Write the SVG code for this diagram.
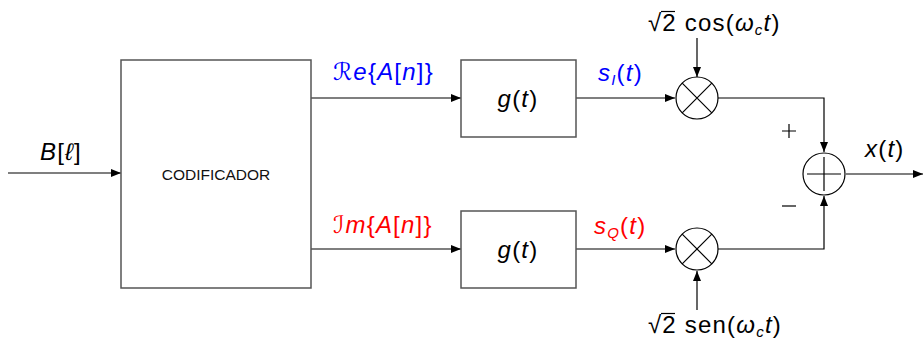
<svg xmlns="http://www.w3.org/2000/svg" width="923" height="339" viewBox="0 0 923 339">
<style>
.box{fill:#fff;stroke:#555;stroke-width:1.5}
.ln{fill:none;stroke:#000;stroke-width:1.2}
.circ{fill:#fff;stroke:#000;stroke-width:1.2}
.t{font-family:"Liberation Sans","DejaVu Sans",sans-serif;font-size:24px;fill:#000;letter-spacing:1.2px}
.i{font-style:italic}
.sub{font-size:15px;font-style:italic}
.blue{fill:#0000ff}
.red{fill:#ff0000}
.small{font-family:"Liberation Sans",sans-serif;font-size:15.5px;fill:#111}
</style>
<defs>
<marker id="ar" viewBox="0 0 10 8" refX="10" refY="4" markerWidth="10" markerHeight="8" markerUnits="userSpaceOnUse" orient="auto">
<path d="M0,0 L10,4 L0,8 Z" fill="#000"/>
</marker>
</defs>
<g id="connectors">
<line class="ln" x1="8" y1="173" x2="121" y2="173" marker-end="url(#ar)"/>
<line class="ln" x1="311" y1="98" x2="461" y2="98" marker-end="url(#ar)"/>
<line class="ln" x1="311" y1="249" x2="461" y2="249" marker-end="url(#ar)"/>
<line class="ln" x1="576" y1="98" x2="675" y2="98" marker-end="url(#ar)"/>
<line class="ln" x1="576" y1="249" x2="675" y2="249" marker-end="url(#ar)"/>
<line class="ln" x1="697" y1="38" x2="697" y2="77" marker-end="url(#ar)"/>
<line class="ln" x1="697" y1="310" x2="697" y2="271" marker-end="url(#ar)"/>
<polyline class="ln" points="718,98 824,98 824,152" marker-end="url(#ar)"/>
<polyline class="ln" points="718,249 824,249 824,196" marker-end="url(#ar)"/>
<line class="ln" x1="846" y1="174" x2="923" y2="174" marker-end="url(#ar)"/>
</g>
<g id="codificador">
<rect class="box" x="121" y="60" width="190" height="228"/>
<text class="small" x="216" y="180" text-anchor="middle">CODIFICADOR</text>
</g>
<g id="g-top">
<rect class="box" x="461" y="60" width="115" height="77"/>
<text class="t" x="518" y="107" text-anchor="middle" letter-spacing="2"><tspan class="i">g</tspan>(<tspan class="i">t</tspan>)</text>
</g>
<g id="g-bottom">
<rect class="box" x="461" y="211" width="115" height="77"/>
<text class="t" x="518" y="258" text-anchor="middle" letter-spacing="2"><tspan class="i">g</tspan>(<tspan class="i">t</tspan>)</text>
</g>
<g id="mult-top">
<circle class="circ" cx="697" cy="98" r="21"/>
<path class="ln" d="M682.2,83.2 L711.8,112.8 M711.8,83.2 L682.2,112.8"/>
</g>
<g id="mult-bottom">
<circle class="circ" cx="697" cy="249" r="21"/>
<path class="ln" d="M682.2,234.2 L711.8,263.8 M711.8,234.2 L682.2,263.8"/>
</g>
<g id="adder">
<circle class="circ" cx="824" cy="174" r="21"/>
<path class="ln" d="M807,174 L841,174 M824,157 L824,191"/>
</g>
<g id="labels">
<text class="t" x="40" y="160"><tspan class="i">B</tspan>[<tspan class="i">ℓ</tspan>]</text>
<text class="t blue" x="333" y="80"><tspan class="i">ℛe</tspan>{<tspan class="i">A</tspan>[<tspan class="i">n</tspan>]}</text>
<text class="t red" x="333" y="233"><tspan class="i">ℐm</tspan>{<tspan class="i">A</tspan>[<tspan class="i">n</tspan>]}</text>
<text class="t blue" x="598" y="81"><tspan class="i">s</tspan><tspan class="sub" dy="4">I</tspan><tspan dy="-4">(</tspan><tspan class="i">t</tspan>)</text>
<text class="t red" x="594" y="234"><tspan class="i">s</tspan><tspan class="sub" dy="4">Q</tspan><tspan dy="-4">(</tspan><tspan class="i">t</tspan>)</text>
<text class="t" x="648" y="31" letter-spacing="0.5">√2 cos(<tspan class="i">ω</tspan><tspan class="sub" dy="4">c</tspan><tspan class="i" dy="-4">t</tspan>)</text>
<path class="ln" d="M661,11.5 H675"/>
<text class="t" x="648" y="333" letter-spacing="0.5">√2 sen(<tspan class="i">ω</tspan><tspan class="sub" dy="4">c</tspan><tspan class="i" dy="-4">t</tspan>)</text>
<path class="ln" d="M661,313.5 H675"/>
<text class="t" x="865" y="157"><tspan class="i">x</tspan>(<tspan class="i">t</tspan>)</text>
<path class="ln" d="M782,131 H796 M789,124 V138"/>
<path class="ln" d="M782,206 H796"/>
</g>
</svg>
